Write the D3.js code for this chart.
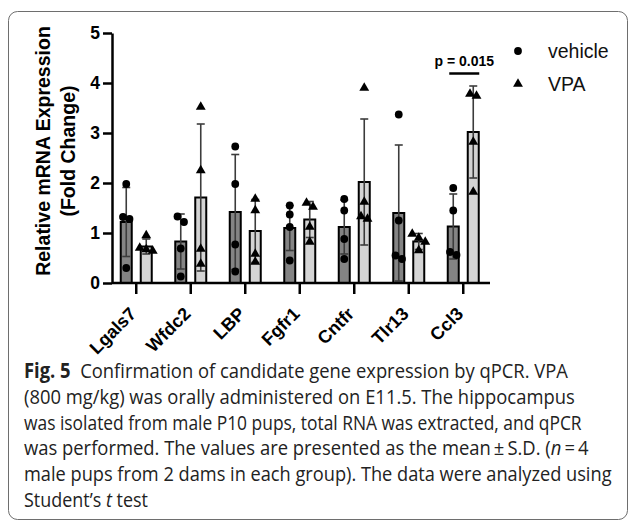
<!DOCTYPE html>
<html>
<head>
<meta charset="utf-8">
<script src="https://cdn.jsdelivr.net/npm/d3@7"></script>
<style>
  body{margin:0;background:#fff;}
  svg{display:block;}
</style>
</head>
<body>
<div id="chart"></div>
<script>
(() => {

/* ---------- DATA ---------- */
const GENES=["Lgals7","Wfdc2","LBP","Fgfr1","Cntfr","Tlr13","Ccl3"];
const GROUPS=["vehicle","VPA"];
const VEH_MEAN=[1.22,0.83,1.42,1.10,1.12,1.40,1.13];
const VEH_SD  =[0.69,0.55,1.15,0.45,0.54,1.36,0.65];
const VPA_MEAN=[0.73,1.71,1.04,1.27,2.02,0.83,3.02];
const VPA_SD  =[0.15,1.47,0.63,0.36,1.26,0.16,0.92];
const VEH_PTS=[[1.98,1.32,1.28,0.30],[1.33,1.22,0.69,0.13],[2.73,1.98,0.77,0.23],
               [1.55,1.37,1.12,0.45],[1.68,1.45,0.88,0.48],[3.37,1.25,0.55,0.48],
               [1.90,1.45,0.62,0.56]];
const VPA_PTS=[[0.95,0.70,0.67,0.64],[3.52,2.25,0.68,0.38],[1.68,1.45,0.58,0.42],
               [1.60,1.52,1.12,0.82],[3.90,1.62,1.33,1.28],[0.98,0.90,0.82,0.65],
               [3.78,3.74,2.82,1.82]];
const Y_TICKS=[0,1,2,3,4,5];
const SIG_GENE="Ccl3", SIG_Y=4.19, SIG_LABEL="p = 0.015";
const Y_LABEL=["Relative mRNA Expression","(Fold Change)"];
const CAPTION=[
  [{t:"Fig. 5",b:1},{t:"  Confirmation of candidate gene expression by qPCR. VPA"}],
  [{t:"(800 mg/kg) was orally administered on E11.5. The hippocampus"}],
  [{t:"was isolated from male P10 pups, total RNA was extracted, and qPCR"}],
  [{t:"was performed. The values are presented as the mean\u2009\u00b1\u2009S.D. ("},{t:"n",i:1},{t:"\u2009=\u20094"}],
  [{t:"male pups from 2 dams in each group). The data were analyzed using"}],
  [{t:"Student\u2019s "},{t:"t",i:1},{t:" test"}]
];

/* ---------- CONFIG ---------- */
const W=629, H=523;
const AX_X=112, AX_END=490, Y0=283, Y5=33;
const BAR_W=11, BAR_OFF=10;
const COL_VEH="#848484", COL_VPA="#d4d4d4";
const FONT="'Liberation Sans', Arial, Helvetica, sans-serif";
const CAP_X=24, CAP_Y0=378, CAP_DY=25.8;
const CAP_END=[568,575,582,589,612,148];

const svg=d3.select("#chart").append("svg").attr("width",W).attr("height",H);

/* frame */
svg.append("rect").attr("x",8.5).attr("y",11.5).attr("width",619).attr("height",508)
   .attr("rx",9).attr("fill","none").attr("stroke","#6e6e6e").attr("stroke-width",1);

/* ---------- SCALES ---------- */
const x=d3.scaleBand().domain(GENES).range([109,490.5]);
const y=d3.scaleLinear().domain([0,5]).range([Y0,Y5]);
const cx=g=>x(g)+x.bandwidth()/2;

const series=GROUPS.map((grp,gi)=>GENES.map((g,i)=>({
  gene:g, grp,
  mean:gi?VPA_MEAN[i]:VEH_MEAN[i],
  sd:gi?VPA_SD[i]:VEH_SD[i],
  pts:gi?VPA_PTS[i]:VEH_PTS[i],
  xc:cx(g)+(gi?BAR_OFF:-BAR_OFF)
})));

const plot=svg.append("g");

/* bars */
series.forEach((s,gi)=>{
  plot.selectAll(null).data(s).enter().append("rect")
    .attr("x",d=>d.xc-BAR_W/2).attr("width",BAR_W)
    .attr("y",d=>y(d.mean)).attr("height",d=>y(0)-y(d.mean))
    .attr("fill",gi?COL_VPA:COL_VEH).attr("stroke","#000").attr("stroke-width",2);
});

/* error bars */
const eb=plot.append("g").attr("stroke","#3c3c3c").attr("stroke-width",1.6);
series.flat().forEach(d=>{
  const lo=Math.max(0,d.mean-d.sd), hi=d.mean+d.sd;
  eb.append("line").attr("x1",d.xc).attr("x2",d.xc).attr("y1",y(lo)).attr("y2",y(hi));
  [lo,hi].forEach(v=>eb.append("line").attr("x1",d.xc-4).attr("x2",d.xc+4)
      .attr("y1",y(v)).attr("y2",y(v)));
});

/* points – simple swarm so overlapping points sit side by side */
const swarm=(vals)=>{
  const s=vals.map(v=>({v,py:y(v)})).sort((a,b)=>a.py-b.py);
  const groups=[];
  s.forEach(p=>{
    const last=groups[groups.length-1];
    if(last && p.py-last[last.length-1].py<7) last.push(p); else groups.push([p]);
  });
  groups.forEach(gr=>gr.forEach((p,k)=>p.dx=(k-(gr.length-1)/2)*6.5));
  return s;
};
const tri=d3.symbol(d3.symbolTriangle,42)();
series.forEach((s,gi)=>s.forEach(d=>{
  swarm(d.pts).forEach(p=>{
    if(gi) plot.append("path").attr("d",tri)
             .attr("transform",`translate(${d.xc+p.dx},${p.py})`).attr("fill","#000");
    else plot.append("circle").attr("cx",d.xc+p.dx).attr("cy",p.py).attr("r",3.9).attr("fill","#000");
  });
}));

/* ---------- AXES ---------- */
const yAx=svg.append("g").attr("transform",`translate(${AX_X},0)`)
  .call(d3.axisLeft(y).tickValues(Y_TICKS).tickFormat(d3.format("d"))
        .tickSize(9).tickSizeOuter(0).tickPadding(3));
const xAx=svg.append("g").attr("transform",`translate(0,${Y0})`)
  .call(d3.axisBottom(x).tickSize(11).tickSizeOuter(0));
xAx.select(".domain").remove();
svg.append("line").attr("x1",AX_X).attr("x2",AX_END).attr("y1",Y0).attr("y2",Y0)
   .attr("stroke","#000").attr("stroke-width",2.5);

[yAx,xAx].forEach(a=>{
  a.selectAll("path,line").attr("stroke","#000").attr("stroke-width",2.5);
  a.selectAll("text").attr("fill","#000").style("font-family",FONT)
   .style("font-size","17.5px").style("font-weight","bold");
});
xAx.selectAll(".tick text")
   .attr("text-anchor","end").attr("dy",0).attr("y",0).style("font-size","18px")
   .attr("transform","translate(1,32) rotate(-45)");

/* y axis title */
Y_LABEL.forEach((t,i)=>{
  svg.append("text").attr("transform",`translate(${50+i*25},151) rotate(-90)`)
    .attr("text-anchor","middle").style("font-family",FONT).style("font-weight","bold")
    .style("font-size","19.5px").text(t);
});

/* significance */
svg.append("line").attr("x1",cx(SIG_GENE)-14).attr("x2",cx(SIG_GENE)+16)
   .attr("y1",y(SIG_Y)).attr("y2",y(SIG_Y)).attr("stroke","#000").attr("stroke-width",2.5);
svg.append("text").attr("x",cx(SIG_GENE)+1).attr("y",y(SIG_Y)-7.5)
   .attr("text-anchor","middle").style("font-family",FONT).style("font-weight","bold")
   .style("font-size","14px").text(SIG_LABEL);

/* legend */
const lg=svg.append("g").style("font-family",FONT).style("font-size","19.5px");
GROUPS.forEach((g,i)=>{
  const ly=51+i*33;
  if(i) lg.append("path").attr("d",tri).attr("transform",`translate(518,${ly})`);
  else  lg.append("circle").attr("cx",518).attr("cy",ly).attr("r",3.9);
  lg.append("text").attr("x",548).attr("y",ly+7).attr("fill","#111").text(g);
});

/* ---------- CAPTION ---------- */
const cap=svg.append("g").style("font-family","'Open Sans', 'Noto Sans', sans-serif")
  .style("font-size","20.5px").attr("fill","#222");
CAPTION.forEach((ln,i)=>{
  const t=cap.append("text").attr("x",0).attr("y",CAP_Y0+i*CAP_DY).attr("xml:space","preserve");
  ln.forEach(s=>t.append("tspan").style("font-weight",s.b?"bold":null)
     .style("font-style",s.i?"italic":null).text(s.t));
  const w=t.node().getComputedTextLength();
  t.attr("transform",`translate(${CAP_X},0) scale(${(CAP_END[i]-CAP_X)/w},1)`);
});

})();
</script>
</body>
</html>
